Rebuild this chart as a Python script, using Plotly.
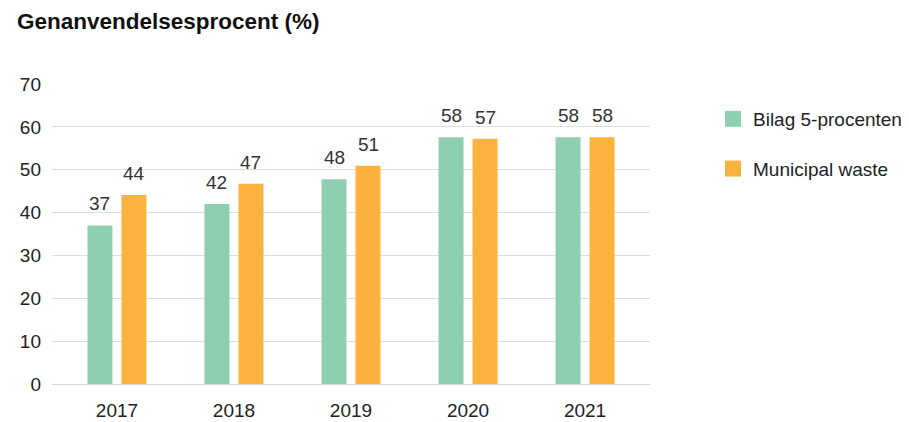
import plotly.graph_objects as go

years = ["2017", "2018", "2019", "2020", "2021"]
bilag5 = [37.0, 42.0, 47.8, 57.6, 57.6]
municipal = [44.1, 46.7, 50.9, 57.2, 57.6]
series_names = ["Bilag 5-procenten", "Municipal waste"]
title_text = "Genanvendelsesprocent (%)"
y_ticks = [0, 10, 20, 30, 40, 50, 60, 70]

GREEN = "#8ecfb0"
ORANGE = "#fbb33d"
FONT = "Liberation Sans, Arial, Helvetica, sans-serif"
TXT = "#222222"
FS = 19

fig = go.Figure()
series = [(series_names[0], bilag5, GREEN, -17), (series_names[1], municipal, ORANGE, 17)]
for name, vals, col, dx in series:
    fig.add_trace(go.Bar(
        x=years, y=vals, name=name, marker=dict(color=col, line=dict(width=0)),
        showlegend=False, hoverinfo="skip",
    ))
    # legend proxy
    fig.add_trace(go.Scatter(
        x=[None], y=[None], mode="markers", name=name, legendgroup=name,
        marker=dict(symbol="square", size=17, color=col),
    ))
    for i, yv in enumerate(vals):
        fig.add_annotation(x=i, y=yv, xref="x", yref="y", text=f"{yv:.0f}",
                           showarrow=False, xshift=dx, yshift=9, yanchor="bottom",
                           font=dict(size=FS, color="#333333", family=FONT))

fig.update_layout(
    width=909, height=422,
    margin=dict(l=52, r=259, t=84, b=38),
    paper_bgcolor="white", plot_bgcolor="white",
    barmode="group", bargap=0.419, bargroupgap=0.265,
    font=dict(family=FONT, size=FS, color=TXT),
    title=dict(text="<b>" + title_text + "</b>", x=17/909, xanchor="left",
               y=1 - 21/422, yanchor="middle",
               font=dict(size=22.5, color="#111111", family=FONT)),
    showlegend=True,
    legend=dict(xref="container", yref="container", x=713/909, xanchor="left",
                y=1 - 100/422, yanchor="top",
                font=dict(size=FS, color=TXT), tracegroupgap=22,
                traceorder="grouped", bgcolor="rgba(0,0,0,0)"),
    xaxis=dict(type="category", range=[-0.555, 4.555], showgrid=False, showline=True,
               linecolor="#d4d4d4", linewidth=1, ticks="", automargin=False,
               ticklabelstandoff=9, tickfont=dict(size=FS, color=TXT)),
    yaxis=dict(range=[0, 70], tickvals=y_ticks, showgrid=True,
               gridcolor="#dddddd", gridwidth=1, zeroline=False, automargin=False,
               showline=False, ticks="", ticklabelstandoff=10,
               tickfont=dict(size=FS, color=TXT)),
)

fig.write_html("out.html", config={"displayModeBar": False},
               post_script="document.body.style.margin='0';")
